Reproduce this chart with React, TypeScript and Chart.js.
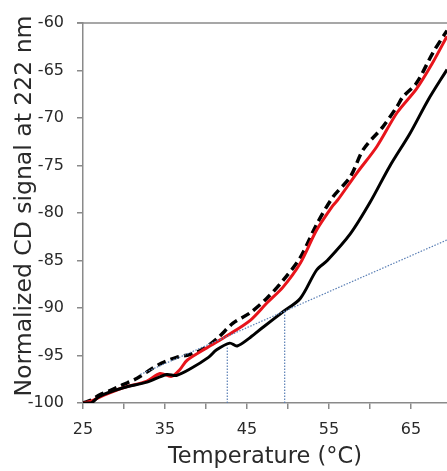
import React, { useEffect, useRef } from "react";
import { Chart, registerables } from "chart.js";

Chart.register(...registerables);

// ---- data ----
const blackTemp = [25, 26, 27, 29.9, 32.8, 35.2, 36.4, 38.1, 40.3, 41.3, 42.9, 43.8, 45.4, 47.0, 49.4, 51.5, 53.5, 54.8, 57.6, 60.0, 62.4, 64.9, 67.1, 69.4];
const blackCD = [-100, -100, -99.3, -98.4, -97.8, -97.0, -97.1, -96.4, -95.2, -94.4, -93.7, -94.0, -93.1, -92.0, -90.4, -89.0, -86.0, -85.0, -82.2, -78.9, -75.1, -71.6, -68.1, -64.9];

const redTemp = [25, 26, 27.5, 29.9, 32.8, 34.4, 35.8, 36.8, 37.7, 40.1, 42.6, 45.4, 47.4, 49.4, 51.5, 53.5, 55.5, 56.1, 58.4, 60.85, 63.3, 65.7, 67.7, 69.4];
const redCD = [-100, -99.8, -99.2, -98.4, -97.7, -96.9, -97.2, -96.5, -95.5, -94.2, -92.9, -91.3, -89.5, -87.8, -85.3, -81.8, -79.2, -78.6, -75.8, -73.0, -69.45, -66.9, -64.1, -61.4];

const dashTemp = [25, 26, 27.1, 28.3, 29.8, 31.6, 33.2, 34.6, 36.4, 38.0, 39.7, 41.5, 43.3, 45.4, 47.4, 49.4, 51.5, 53.5, 55.5, 57.6, 59.2, 61.6, 63.3, 64.0, 65.7, 67.7, 69.4];
const dashCD = [-100, -99.7, -99.1, -98.7, -98.1, -97.4, -96.5, -95.8, -95.2, -94.9, -94.3, -93.1, -91.6, -90.5, -89.0, -87.1, -84.7, -81.2, -78.3, -76.2, -73.3, -70.9, -68.8, -67.8, -66.3, -63.1, -60.8];

const tangentTemp = [32, 70];
const tangentCD = [-96.99, -82.61];
const onset1Temp = [42.6, 42.6];
const onset1CD = [-100, -94.0];
const onset2Temp = [49.6, 49.6];
const onset2CD = [-100, -90.4];

const xTickLabels = [25, 35, 45, 55, 65];
const xMin = 25;
const xMax = 69.4;
const yMin = -100;
const yMax = -60;

const xTitle = "Temperature (°C)";
const yTitle = "Normalized CD signal at 222 nm";

const toPts = (xs: number[], ys: number[]) => xs.map((x, i) => ({ x, y: ys[i] }));

const FONT_NAME = "DejaVu Sans";
const FONT = "'DejaVu Sans', sans-serif";
const AXIS = "#8a8a8a";
const TEXT = "#2a2a2a";
const DOT = "#5a7fb5";

const decorations = {
  id: "decorations",
  afterDraw(chart: any) {
    const { ctx, chartArea } = chart;
    ctx.save();
    // top frame line
    ctx.strokeStyle = AXIS;
    ctx.lineWidth = 1.5;
    ctx.beginPath();
    ctx.moveTo(chartArea.left - 6, chartArea.top);
    ctx.lineTo(chartArea.right, chartArea.top);
    ctx.stroke();
    // y-axis title
    ctx.fillStyle = TEXT;
    ctx.font = `23.5px '${FONT_NAME}', sans-serif`;
    ctx.textAlign = "center";
    ctx.textBaseline = "alphabetic";
    ctx.translate(31, 206);
    ctx.rotate(-Math.PI / 2);
    ctx.fillText(yTitle, 0, 0);
    ctx.restore();
  },
};

export default function App() {
  const ref = useRef<HTMLCanvasElement | null>(null);

  useEffect(() => {
    if (!ref.current) return;
    const dotted = (xs: number[], ys: number[]) => ({
      data: toPts(xs, ys),
      borderColor: DOT,
      borderWidth: 1.2,
      borderDash: [1.5, 1.5],
      pointRadius: 0,
      tension: 0,
    });
    const chart = new Chart(ref.current, {
      type: "line",
      data: {
        datasets: [
          dotted(tangentTemp, tangentCD),
          dotted(onset1Temp, onset1CD),
          dotted(onset2Temp, onset2CD),
          {
            data: toPts(blackTemp, blackCD),
            borderColor: "#000000",
            borderWidth: 3,
            pointRadius: 0,
            tension: 0.3,
          },
          {
            data: toPts(redTemp, redCD),
            borderColor: "#e8141b",
            borderWidth: 3,
            pointRadius: 0,
            tension: 0.3,
          },
          {
            data: toPts(dashTemp, dashCD),
            borderColor: "#000000",
            borderWidth: 3.5,
            borderDash: [9, 5],
            pointRadius: 0,
            tension: 0.3,
          },
        ],
      },
      options: {
        animation: false,
        responsive: false,
        maintainAspectRatio: false,
        layout: { padding: { top: 23, right: 0, bottom: 0, left: 0 } },
        plugins: { legend: { display: false }, tooltip: { enabled: false } },
        scales: {
          x: {
            type: "linear",
            min: xMin,
            max: xMax,
            afterFit: (s: any) => {
              s.height = 68;
            },
            afterBuildTicks: (s: any) => {
              const t: any[] = [];
              for (let v = xMin; v <= xMax; v += 5) t.push({ value: v });
              s.ticks = t;
            },
            ticks: {
              font: { family: FONT, size: 16 },
              color: TEXT,
              padding: 11,
              maxRotation: 0,
              autoSkip: false,
              callback: (v: any) => (xTickLabels.includes(Number(v)) ? String(v) : ""),
            },
            grid: {
              display: true,
              drawOnChartArea: false,
              drawTicks: true,
              tickLength: 6,
              color: AXIS,
              lineWidth: 1.5,
            },
            border: { display: true, color: AXIS, width: 1.5 },
            title: {
              display: true,
              text: xTitle,
              font: { family: FONT, size: 22.5 },
              color: TEXT,
              padding: { top: 0, bottom: 0 },
            },
          },
          y: {
            type: "linear",
            min: yMin,
            max: yMax,
            afterFit: (s: any) => {
              s.width = 83;
            },
            ticks: {
              stepSize: 5,
              font: { family: FONT, size: 16 },
              color: TEXT,
              padding: 13,
            },
            grid: {
              display: true,
              drawOnChartArea: false,
              drawTicks: true,
              tickLength: 6,
              color: AXIS,
              lineWidth: 1.5,
            },
            border: { display: true, color: AXIS, width: 1.5 },
            title: { display: false },
          },
        },
      },
      plugins: [decorations],
    });
    return () => chart.destroy();
  }, []);

  return (
    <div style={{ position: "absolute", left: 0, top: 0, width: 447, height: 471 }}>
      <canvas ref={ref} width={447} height={471} style={{ display: "block" }} />
    </div>
  );
}
